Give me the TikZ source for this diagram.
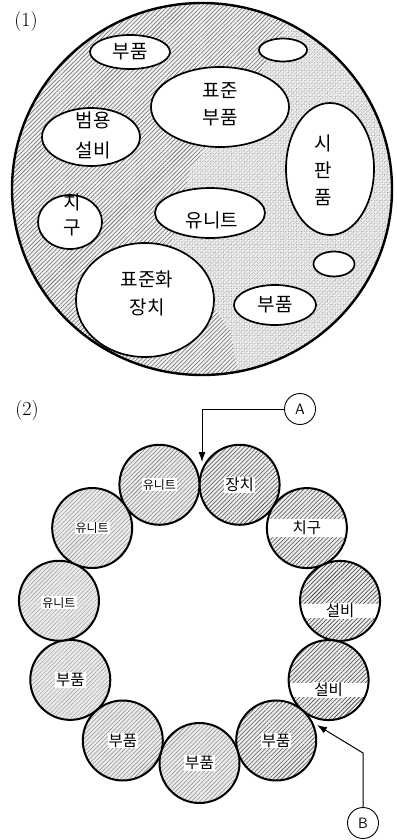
\documentclass[tikz,border=0pt]{standalone}
\usepackage{fontspec}
\newfontfamily\kr{Noto Sans CJK KR}
\usetikzlibrary{patterns.meta,shapes.geometric,arrows.meta}
\begin{document}
\begin{tikzpicture}[x=1pt,y=-1pt,
  hatch/.style={pattern={Lines[angle=45,distance=3pt,line width=0.55pt]},pattern color=#1},
  hatch/.default=black!60,
  dots/.style={pattern={Dots[distance=2.6pt,radius=0.45pt]},pattern color=#1},
  inel/.style={ellipse,draw,line width=1.7pt,fill=white,inner sep=0pt},
  krt/.style={font=\kr\fontsize{19}{27}\selectfont,align=center,inner sep=0pt},
  ringc/.style={circle,draw,line width=2pt,minimum size=80pt,inner sep=0pt},
  rt/.style={font=\kr\fontsize{15.5}{16}\selectfont,inner sep=0pt},
  rts/.style={font=\kr\fontsize{12}{12}\selectfont,inner sep=0pt},
  tag/.style={circle,draw,line width=0.9pt,minimum size=31pt,inner sep=0pt,font=\sffamily\fontsize{15}{15}\selectfont},
  arr/.style={line width=1pt,-{Latex[length=10pt,width=7pt]}}]
\useasboundingbox (0,0) rectangle (396,840);

% ---------- (1) ----------
\node[font=\fontsize{20}{20}\selectfont] (l1) at (26,22) {(1)};
\fill[gray!12] (202,189) ellipse [x radius=190pt, y radius=186pt];
\begin{scope}
  \clip (202,189) ellipse [x radius=190pt, y radius=186pt];
  \fill[dots=black!50] (0,0) rectangle (396,380);
  \fill[hatch=black!22] (0,0) rectangle (396,380);
  \clip (0,0) -- (300,0) -- (250,90) -- (190,170) -- (170,250) -- (230,330) -- (240,380) -- (0,380) -- cycle;
  \fill[gray!12] (0,0) rectangle (396,380);
  \fill[hatch=black!60] (0,0) rectangle (396,380);
\end{scope}
\draw[line width=2.4pt] (202,189) ellipse [x radius=190pt, y radius=186pt];

\node[inel,minimum width=80pt,minimum height=34pt] (e1) at (130,52) {};
\node[inel,minimum width=48pt,minimum height=23pt] (e2) at (283,50) {};
\node[inel,minimum width=138pt,minimum height=80pt] (e3) at (220,107) {};
\node[inel,minimum width=98pt,minimum height=58pt] (e4) at (91,137) {};
\node[inel,minimum width=88pt,minimum height=132pt] (e5) at (330,169) {};
\node[inel,minimum width=64pt,minimum height=54pt] (e6) at (70,222) {};
\node[inel,minimum width=110pt,minimum height=50pt] (e7) at (210,213) {};
\node[inel,minimum width=41pt,minimum height=25pt] (e8) at (334,264) {};
\node[inel,minimum width=138pt,minimum height=114pt] (e9) at (145,300) {};
\node[inel,minimum width=82pt,minimum height=40pt] (e10) at (275,305) {};

\node[krt] (t1) at (130,52) {부품};
\node[krt] (t3) at (220,104) {표준\\부품};
\node[krt,font=\kr\fontsize{19}{30}\selectfont] (t4) at (93,135) {범용\\설비};
\node[krt] (t5) at (323,170) {시\\판\\품};
\node[krt,font=\kr\fontsize{19}{25}\selectfont] (t6) at (72,215) {치\\구};
\node[krt] (t7) at (212,220) {유니트};
\node[krt,font=\kr\fontsize{19}{28}\selectfont] (t9) at (147,293) {표준화\\장치};
\node[krt] (t10) at (275,305) {부품};

% ---------- (2) ----------
\node[font=\fontsize{20}{20}\selectfont] (l2) at (27,411) {(2)};
\coordinate (O) at (199.5,621);
\foreach \i/\ang/\lab/\sty/\band/\dy/\col in {
  0/73.6/장치/rt/0/0/black!70,
  1/40.87/치구/rt/9/0/black!70,
  2/8.15/설비/rt/7/10/black!80,
  3/-24.58/설비/rt/7/10/black!75,
  4/-57.3/부품/rt/0/0/black!65,
  5/-90.0/부품/rt/0/0/black!45,
  6/-122.7/부품/rt/0/0/black!45,
  7/-155.5/부품/rt/0/0/black!35,
  8/171.8/유니트/rts/0/2/black!35,
  9/139.1/유니트/rts/0/0/black!40,
  10/106.4/유니트/rts/0/0/black!50}{
  \path (O) ++(-\ang:142) coordinate (p\i);
  \fill[gray!16] (p\i) circle (40pt);
  \fill[hatch=\col] (p\i) circle (40pt);
  \begin{scope}
    \clip (p\i) circle (40pt);
    \fill[white] ([shift={(-40,\dy-\band)}]p\i) rectangle ([shift={(40,\dy+\band)}]p\i);
  \end{scope}
  \node[ringc] (c\i) at (p\i) {};
  \node[\sty,fill=white,inner sep=1pt] (w\i) at ([yshift=-\dy pt]p\i) {\lab};
}

\node[tag] (A) at (300,409) {A};
\node[tag] (B) at (363,823) {B};
\coordinate (At) at (202,462);
\coordinate (Bk) at (363,753);
\coordinate (Bt) at (317,725);
\draw[arr] (A.west) -| (At);
\draw[arr] (B.north) -- (Bk) -- (Bt);
\end{tikzpicture}
\end{document}
